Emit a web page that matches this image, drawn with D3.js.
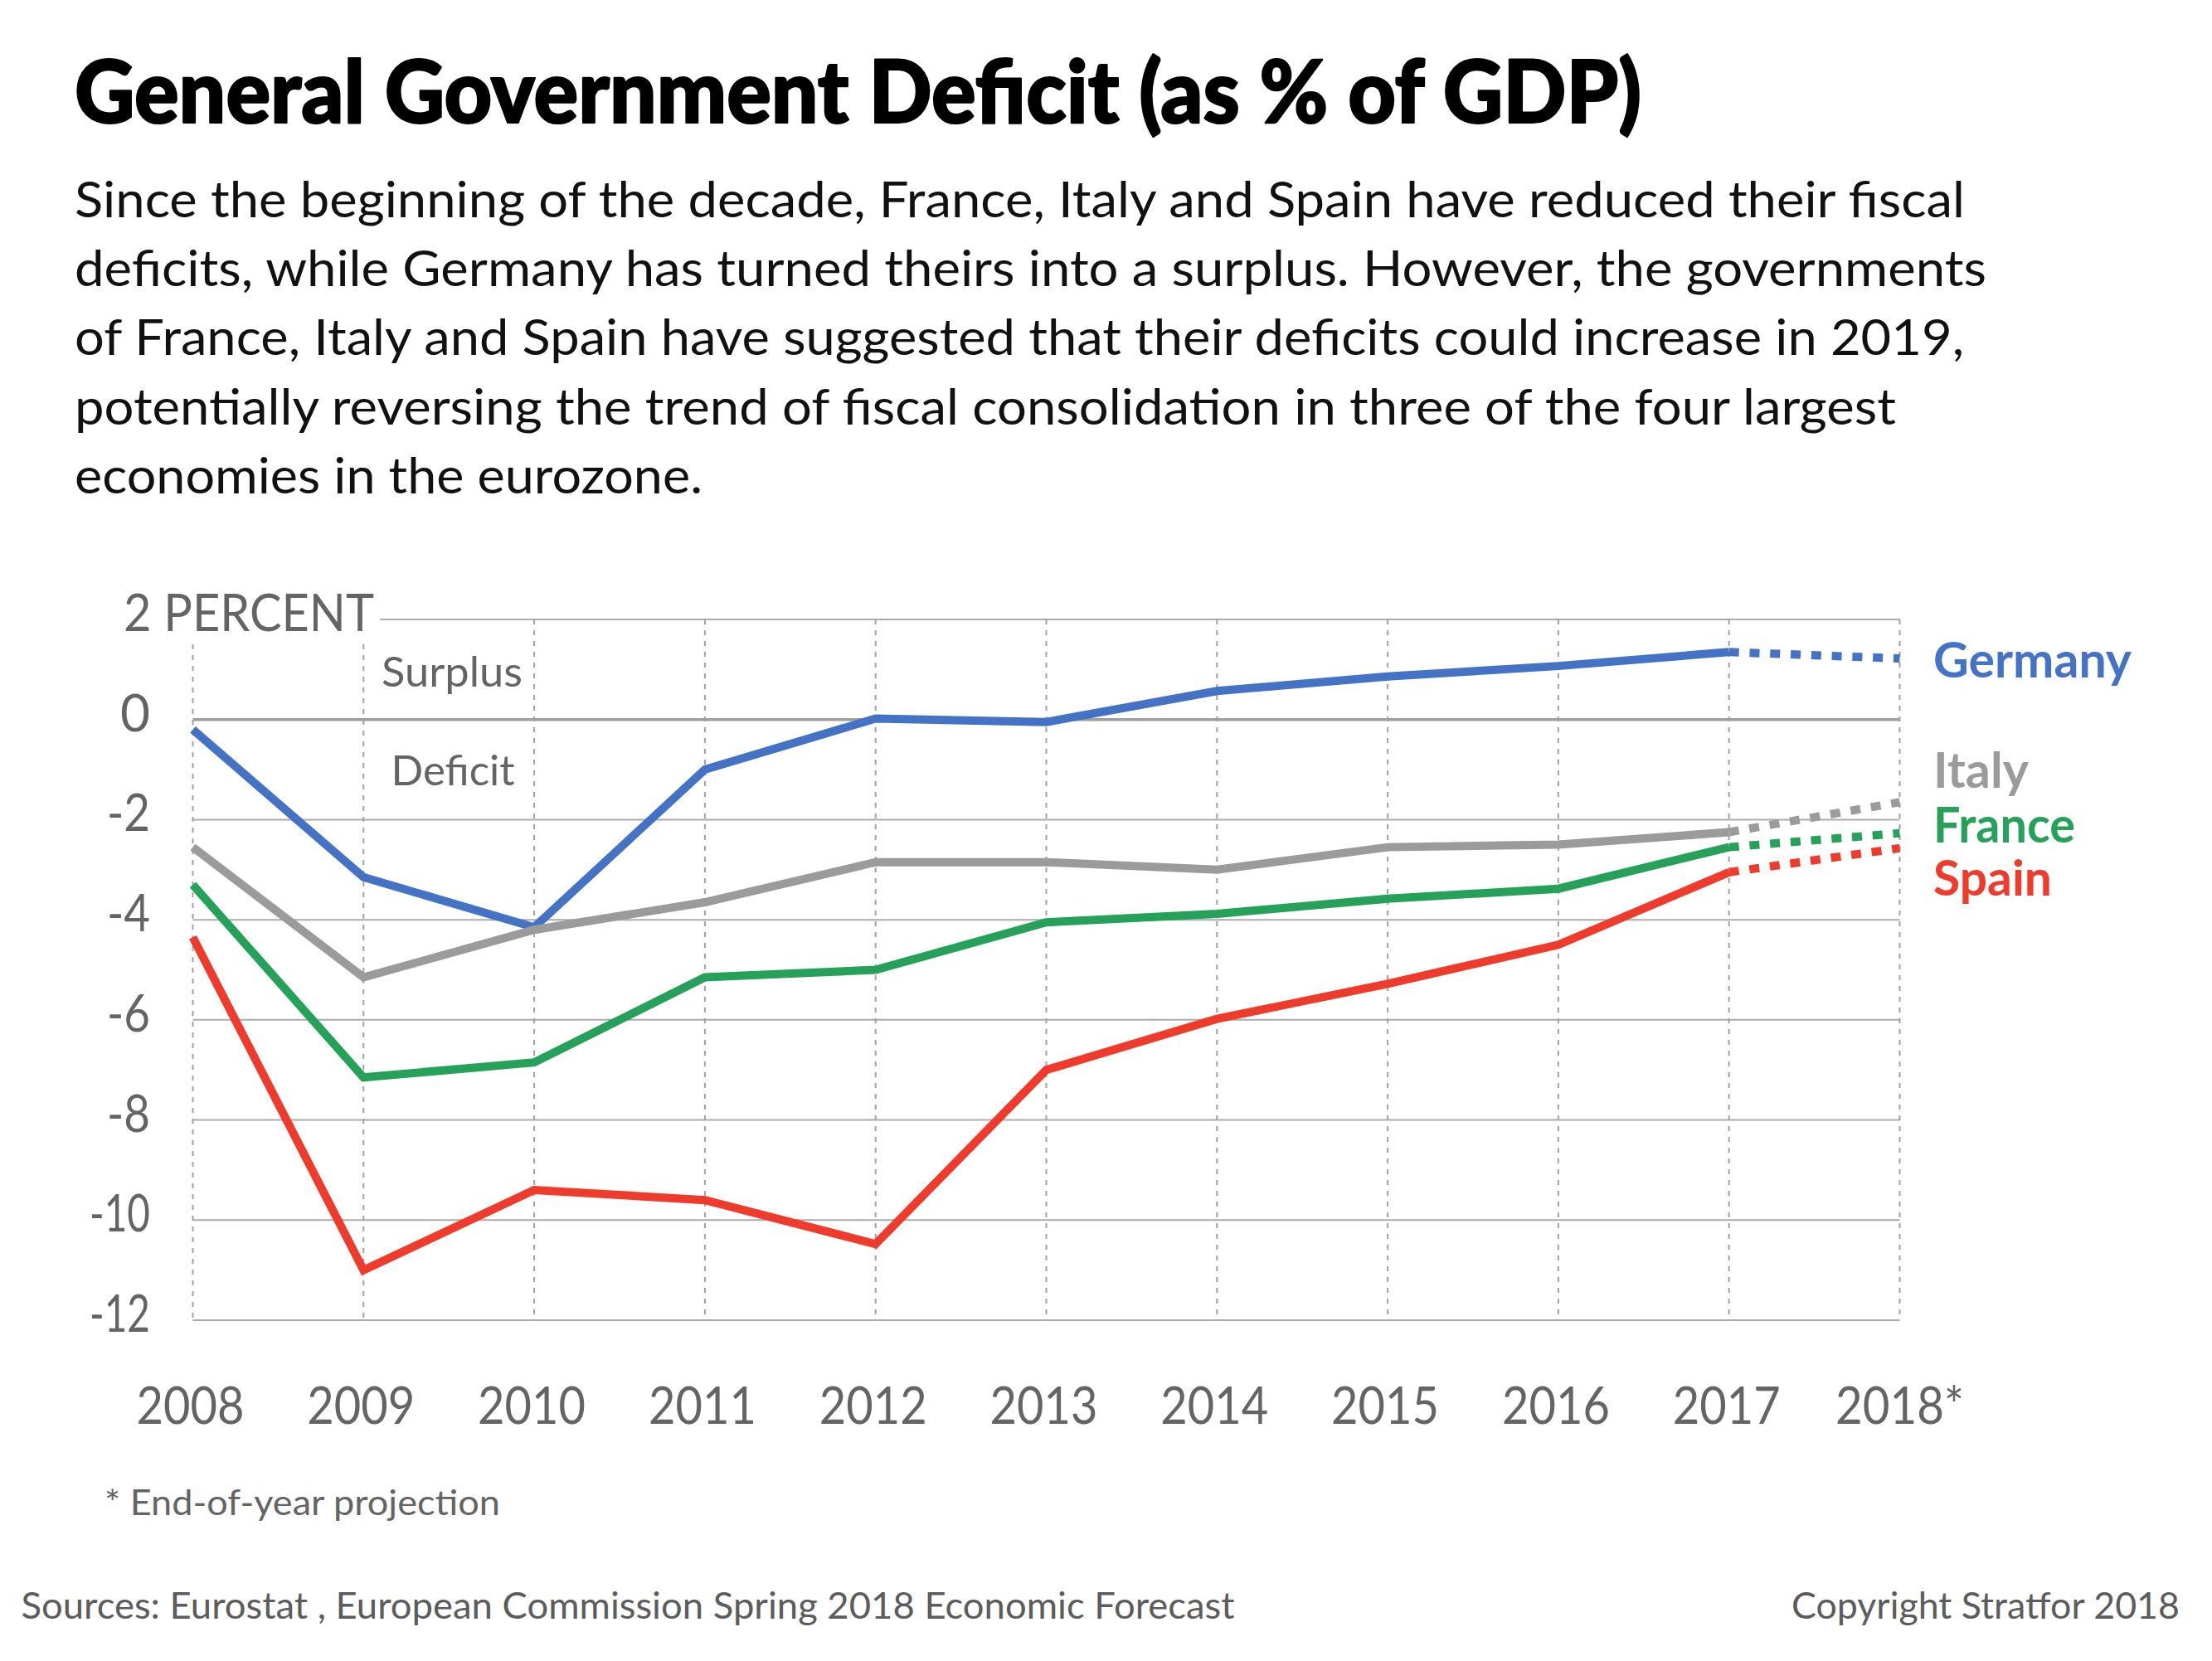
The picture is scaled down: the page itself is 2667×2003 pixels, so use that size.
<!DOCTYPE html>
<html><head><meta charset="utf-8">
<script src="https://cdn.jsdelivr.net/npm/d3@7/dist/d3.min.js"></script>
<style>
html,body{margin:0;padding:0;background:#fff;}
svg{display:block;font-family:Lato,'Noto Sans',sans-serif;}
</style>
</head><body>
<svg id="chart" width="2667" height="2003"></svg>
<script>
// ---------- data ----------
const years = [2008, 2009, 2010, 2011, 2012, 2013, 2014, 2015, 2016, 2017, 2018];
const yearLabels = ["2008", "2009", "2010", "2011", "2012", "2013", "2014", "2015", "2016", "2017", "2018*"];
const germany = [-0.2, -3.15, -4.15, -1.0, 0.02, -0.05, 0.57, 0.86, 1.07, 1.35, 1.22];
const italy   = [-2.55, -5.15, -4.2, -3.65, -2.85, -2.85, -3.0, -2.55, -2.5, -2.25, -1.65];
const france  = [-3.3, -7.15, -6.85, -5.15, -5.0, -4.05, -3.88, -3.58, -3.38, -2.55, -2.27];
const spain   = [-4.35, -11.0, -9.4, -9.6, -10.48, -7.0, -5.98, -5.28, -4.5, -3.05, -2.57];
const seriesNames = ["Germany", "Italy", "France", "Spain"];
const seriesColors = ["#4472C4", "#9B9B9B", "#26A15A", "#EE3B2B"];
const yTicks = [2, 0, -2, -4, -6, -8, -10, -12];
const yTickLabels = ["2 PERCENT", "0", "-2", "-4", "-6", "-8", "-10", "-12"];
const titleText = "General Government Deficit (as % of GDP)";
const subtitleLines = [
  "Since the beginning of the decade, France, Italy and Spain have reduced their fiscal",
  "deficits, while Germany has turned theirs into a surplus. However, the governments",
  "of France, Italy and Spain have suggested that their deficits could increase in 2019,",
  "potentially reversing the trend of fiscal consolidation in three of the four largest",
  "economies in the eurozone."
];
const footnoteText = "* End-of-year projection";
const sourceText = "Sources: Eurostat , European Commission Spring 2018 Economic Forecast";
const copyrightText = "Copyright Stratfor 2018";
const surplusLabel = "Surplus";
const deficitLabel = "Deficit";

// ---------- layout ----------
const svg = d3.select("#chart");
const axisColor = "#646464";

const x = d3.scalePoint().domain(years).range([232.5, 2290.5]);
const y = d3.scaleLinear().domain([-12, 2]).range([1592, 747]);

function fit(sel, w) { sel.attr("textLength", w).attr("lengthAdjust", "spacingAndGlyphs"); return sel; }

// title
fit(svg.append("text").attr("x", 90).attr("y", 148)
  .attr("font-size", 104).attr("font-weight", 900).attr("fill", "#000")
  .attr("stroke", "#000").attr("stroke-width", 2.2).attr("stroke-linejoin", "round")
  .text(titleText), 1889);

// subtitle
const subWidths = [2279, 2305, 2278, 2196, 757];
subtitleLines.forEach((line, i) => {
  fit(svg.append("text").attr("x", 90).attr("y", 261.7 + i * 83.3)
    .attr("font-size", 60).attr("fill", "#111").text(line), subWidths[i]);
});

// horizontal gridlines
const g = svg.append("g");
g.selectAll("line.h").data(yTicks).join("line")
  .attr("x1", d => d === 2 ? 458 : x(2008)).attr("x2", x(2018))
  .attr("y1", d => y(d)).attr("y2", d => y(d))
  .attr("stroke", d => d === 0 ? "#9e9e9e" : "#ababab")
  .attr("stroke-width", d => d === 0 ? 3.5 : 2);

// vertical dashed gridlines
g.selectAll("line.v").data(years).join("line")
  .attr("x1", d => x(d)).attr("x2", d => x(d))
  .attr("y1", d => x(d) < 458 ? 777 : y(2)).attr("y2", y(-12))
  .attr("stroke", "#a0a0a0").attr("stroke-width", 2)
  .attr("stroke-dasharray", "6,7");

// y tick labels
const yTickW = { "0": 36, "-2": 52, "-4": 52, "-6": 52, "-8": 52, "-10": 73, "-12": 73 };
g.selectAll("text.yt").data(yTicks).join("text")
  .attr("x", d => d === 2 ? 149 : 181)
  .attr("y", d => y(d) + 14)
  .attr("text-anchor", d => d === 2 ? "start" : "end")
  .attr("font-size", 62).attr("fill", axisColor)
  .each(function(d, i) {
    const t = d3.select(this).text(yTickLabels[i]);
    if (d === 2) fit(t, 302); else fit(t, yTickW[yTickLabels[i]]);
  });

// x tick labels
g.selectAll("text.xt").data(years).join("text")
  .attr("x", (d, i) => x(d) - (i === years.length - 1 ? 0 : 3))
  .attr("y", 1716.7)
  .attr("text-anchor", "middle")
  .attr("font-size", 62).attr("fill", axisColor)
  .text((d, i) => yearLabels[i])
  .each(function(d, i) { fit(d3.select(this), i === years.length - 1 ? 155 : 130); });

// surplus / deficit labels
fit(svg.append("text").attr("x", 545).attr("y", 828).attr("text-anchor", "middle")
  .attr("font-size", 50).attr("fill", axisColor).text(surplusLabel), 170);
fit(svg.append("text").attr("x", 546).attr("y", 946.7).attr("text-anchor", "middle")
  .attr("font-size", 50).attr("fill", axisColor).text(deficitLabel), 149);

// series lines
const allSeries = [germany, italy, france, spain];
const line = d3.line().x(d => x(d.year)).y(d => y(d.v));
const lg = svg.append("g");
allSeries.forEach((vals, s) => {
  const pts = years.map((yr, i) => ({ year: yr, v: vals[i] }));
  const solid = pts.slice(0, pts.length - 1);
  const proj = pts.slice(pts.length - 2);
  lg.append("path").attr("d", line(proj))
    .attr("fill", "none").attr("stroke", seriesColors[s])
    .attr("stroke-width", 10).attr("stroke-dasharray", "12,12.8");
  lg.append("path").attr("d", line(solid))
    .attr("fill", "none").attr("stroke", seriesColors[s])
    .attr("stroke-width", 10).attr("stroke-linejoin", "miter").attr("stroke-linecap", "butt");
});

// legend labels
const legendY = [817, 950, 1016, 1080];
const legendW = [239, 115, 171, 143];
seriesNames.forEach((n, i) => {
  fit(svg.append("text").attr("x", 2331).attr("y", legendY[i])
    .attr("font-size", 60).attr("font-weight", 700).attr("fill", seriesColors[i]).text(n), legendW[i]);
});

// footnote
fit(svg.append("text").attr("x", 126).attr("y", 1826.7)
  .attr("font-size", 42).attr("fill", axisColor).text(footnoteText), 477);

// footer
fit(svg.append("text").attr("x", 25.5).attr("y", 1952)
  .attr("font-size", 44).attr("fill", "#5c5c5c").text(sourceText), 1463);
fit(svg.append("text").attr("x", 2628).attr("y", 1952).attr("text-anchor", "end")
  .attr("font-size", 44).attr("fill", "#5c5c5c").text(copyrightText), 468);
</script>
</body></html>
